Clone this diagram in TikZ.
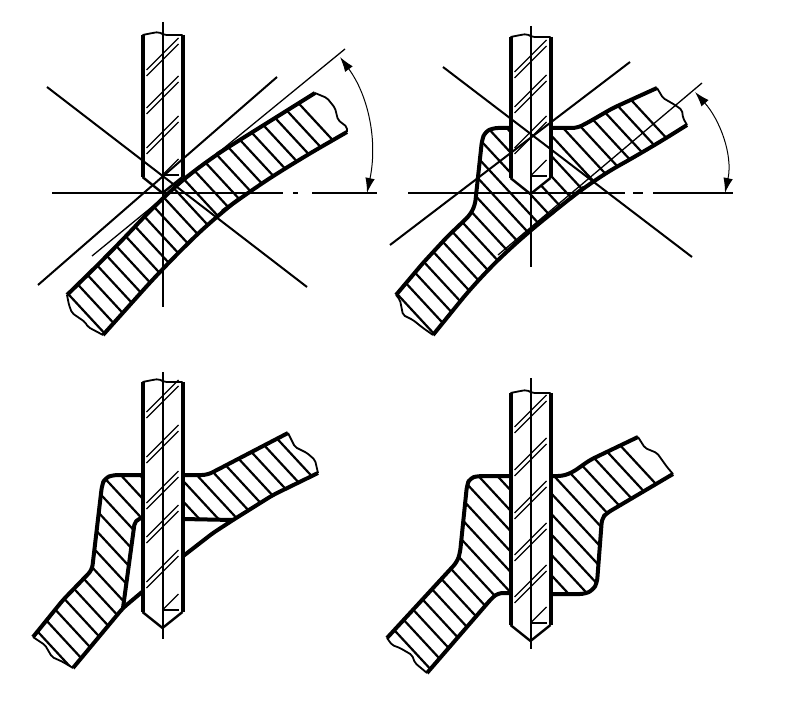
\documentclass[tikz,border=0pt]{standalone}
\usetikzlibrary{arrows.meta}
\tikzset{
  %Define standard arrow tip
  >={Latex[length=15pt,width=9.5pt]},
  %Define style for thick contour lines
  sheetedge/.style={line width=4pt,line join=round,rounded corners=5pt},
  curveedge/.style={line width=4pt,line join=round,rounded corners=30pt},
  breakline/.style={line width=1.8pt,rounded corners=2pt},
  hatchline/.style={line width=2.2pt},
  toolhatch/.style={line width=1.2pt},
  axisline/.style={line width=2pt},
  thinline/.style={line width=1.3pt},
  % Define arrow style
  dimline/.style={<->,line width=1pt}
}
% x axis, top, shoulder, hatch positions
\newcommand{\drillbit}[4]{
  \fill[white] ({#1-20},#2) -- ({#1-20},#3) -- (#1,{#3+16}) -- ({#1+20},#3) -- ({#1+20},#2) -- cycle;
  \foreach \yy in {#4} {
    \draw[toolhatch] ({#1-16},\yy) -- ({#1+16},{\yy-32});
    \draw[toolhatch] ({#1-16},{\yy+6}) -- ({#1+16},{\yy-26});
  }
  \draw[toolhatch] (#1,{#3-2}) -- ({#1+16},{#3-18});
  \draw[toolhatch] (#1,{#3-2}) -- ({#1+16},{#3-2});
  \draw[line width=2.4pt,line join=round] ({#1-20},#3) -- (#1,{#3+16}) -- ({#1+20},#3);
  \draw[line width=4pt] ({#1-20},#2) -- ({#1-20},#3);
  \draw[line width=4pt] ({#1+20},#2) -- ({#1+20},#3);
  \draw[breakline] ({#1-20},#2) -- ({#1-10},{#2-2}) -- ({#1-4},{#2-3}) -- ({#1+2},#2) -- ({#1+20},#2);
}
% clip path, first, second, last
\newcommand{\hatchfill}[4]{
  \begin{scope}
    \clip #1;
    \foreach \cc in {#2,#3,...,#4}
      \draw[hatchline] (\cc,0) -- ({\cc+648},700);
  \end{scope}
}
\begin{document}
\begin{tikzpicture}[x=1pt,y=-1pt]
  \useasboundingbox (0,0) rectangle (796,706);

  % first stage
  \hatchfill{(67,295) -- (110,253) -- (163,197) -- (203,163) -- (243,138) -- (315,93) -- (327,98) -- (335,108) -- (338,120) -- (347,127) -- (347,132) -- (295,162) -- (247,193) -- (215,217) -- (163,268) -- (103,335) -- (88,327) -- (72,313) -- (68,300) -- cycle}{-204}{-185.5}{203}
  \draw[curveedge] (67,295) -- (110,253) -- (163,197) -- (203,163) -- (243,138) -- (315,93);
  \draw[curveedge] (347,132) -- (295,162) -- (247,193) -- (215,217) -- (163,268) -- (103,335);
  \draw[breakline] (315,93) -- (327,98) -- (335,108) -- (338,120) -- (347,127) -- (347,132);
  \draw[breakline] (103,335) -- (88,327) -- (85,322) -- (72,313) -- (69,305) -- (67,295);
  \drillbit{162.5}{35}{177}{70,108,148}
  \draw[axisline] (162.5,22) -- (162.5,307);
  \draw[axisline] (52,193) -- (283,193) (293,193) -- (298,193) (312,193) -- (377,193);
  \draw[axisline] (47,87) -- (307,287);
  \draw[axisline] (38,285) -- (277,77);
  \draw[thinline] (92,256) -- (345,49);
  \draw[dimline] (340,57) .. controls (368,95) and (378,140) .. (367,193);

  % second stage
  \hatchfill{(396,295) -- (423,263) -- (447,237) -- (470,215) -- (475,205) -- (482,140) -- (485,132) -- (493,128) -- (577,128) -- (587,123) -- (613,108) -- (657,88) -- (663,98) -- (675,105) -- (682,110) -- (683,118) -- (687,125) -- (647,150) -- (593,180) -- (560,207) -- (530,230) -- (480,277) -- (433,335) -- (423,328) -- (413,320) -- (403,315) -- (400,300) -- cycle}{125}{143.8}{557.4}
  \draw[sheetedge] (396,295) -- (423,263) -- (447,237) -- (470,215) -- (475,205) -- (482,140) -- (485,132) -- (493,128) -- (510,128);
  \draw[sheetedge] (552,128) -- (577,128) -- (587,123) -- (613,108) -- (657,88);
  \draw[curveedge] (687,125) -- (647,150) -- (593,180) -- (560,207) -- (530,230) -- (480,277) -- (433,335);
  \draw[breakline] (657,88) -- (663,98) -- (675,105) -- (682,110) -- (683,118) -- (687,125);
  \draw[breakline] (433,335) -- (423,328) -- (413,320) -- (403,315) -- (400,300) -- (396,295);
  \drillbit{530.5}{37}{178}{72,107,148}
  \draw[axisline] (531,26) -- (531,267);
  \draw[axisline] (408,193) -- (625,193) (633,193) -- (643,193) (653,193) -- (733,193);
  \draw[axisline] (443,67) -- (692,257);
  \draw[axisline] (390,245) -- (630,62);
  \draw[thinline] (498,255) -- (702,83);
  \draw[dimline] (695,92) .. controls (720,120) and (733,155) .. (725,193);

  % third stage
  \hatchfill{(33,637) -- (63,600) -- (92,570) -- (102,485) -- (105,478) -- (113,475) -- (142,475) -- (142,518) -- (135,520) -- (123,608) -- (73,668) -- (63,662) -- (52,657) -- (45,645) -- cycle
    (182,475) -- (207,475) -- (217,470) -- (240,458) -- (288,433) -- (295,447) -- (307,453) -- (315,460) -- (318,473) -- (273,495) -- (233,520) -- (182,519) -- cycle}{-547}{-528}{-129}
  \draw[sheetedge] (33,637) -- (63,600) -- (92,570) -- (102,485) -- (105,478) -- (113,475) -- (142,475);
  \draw[sheetedge] (142,518) -- (135,520) -- (123,608);
  \draw[sheetedge] (73,668) -- (123,608) -- (142,592);
  \draw[sheetedge] (182,475) -- (207,475) -- (217,470) -- (240,458) -- (288,433);
  \draw[sheetedge] (318,473) -- (273,495) -- (233,520) -- (213,533) -- (182,557);
  \draw[line width=4pt] (182,519) -- (233,520);
  \draw[breakline] (73,668) -- (63,662) -- (52,657) -- (45,645) -- (33,637);
  \draw[breakline] (288,433) -- (295,447) -- (307,453) -- (315,460) -- (318,473);
  \drillbit{162.5}{382}{612}{412,457,503,537,582}
  \draw[axisline] (162.5,372) -- (162.5,639);

  % fourth stage
  \hatchfill{(387,638) -- (422,600) -- (457,562) -- (460,553) -- (467,485) -- (470,478) -- (478,476) -- (563,476) -- (573,472) -- (590,460) -- (638,437) -- (645,448) -- (657,453) -- (667,467) -- (673,474) -- (607,513) -- (602,518) -- (597,583) -- (593,590) -- (585,594) -- (498,593) -- (492,598) -- (427,673) -- (415,663) -- (412,655) -- (400,648) -- (392,645) -- cycle}{-189}{-170.1}{226}
  \draw[sheetedge] (387,638) -- (422,600) -- (457,562) -- (460,553) -- (467,485) -- (470,478) -- (478,476) -- (510,476);
  \draw[sheetedge] (510,593) -- (498,593) -- (492,598) -- (427,673);
  \draw[sheetedge] (551,476) -- (563,476) -- (573,472) -- (590,460) -- (638,437);
  \draw[sheetedge] (673,474) -- (607,513) -- (602,518) -- (597,583) -- (593,590) -- (585,594) -- (551,594);
  \draw[breakline] (638,437) -- (645,448) -- (657,453) -- (667,467) -- (673,474);
  \draw[breakline] (427,673) -- (415,663) -- (412,655) -- (400,648) -- (392,645) -- (387,638);
  \drillbit{530.5}{393}{625}{427,470,513,555,597}
  \draw[axisline] (531,378) -- (531,649);
\end{tikzpicture}
\end{document}
